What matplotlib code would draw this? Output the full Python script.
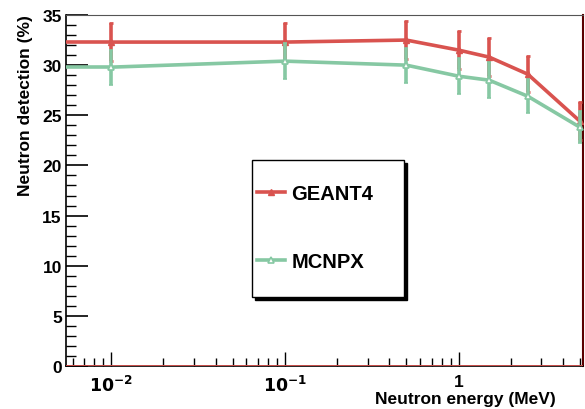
import numpy as np
import matplotlib
matplotlib.use("Agg")
import matplotlib.pyplot as plt
from matplotlib.lines import Line2D
from matplotlib.patches import Rectangle
from matplotlib.ticker import FixedLocator, NullFormatter, FuncFormatter

# data
energy = [0.01, 0.1, 0.5, 1.0, 1.5, 2.5, 5.0]
geant4 = [32.3, 32.3, 32.5, 31.5, 30.8, 29.1, 24.4]
geant4_err = [1.9, 1.9, 1.9, 1.9, 1.9, 1.8, 1.9]
mcnpx = [29.8, 30.4, 30.0, 28.9, 28.5, 26.9, 23.8]
mcnpx_err = [1.75, 1.8, 1.75, 1.8, 1.8, 1.7, 1.6]

red = '#d9534f'
green = '#86c8a3'

plt.rcParams['font.family'] = ['Liberation Sans', 'DejaVu Sans']
plt.rcParams['font.weight'] = 'bold'
plt.rcParams['mathtext.default'] = 'bf'

fig = plt.figure(figsize=(5.85, 4.1), dpi=100)
ax = fig.add_axes([66/585, 1-367/410, 517/585, 351/410])

ax.set_xscale('log')
ax.set_xlim(0.0055, 5.2)
ax.set_ylim(0, 35)
x_lo = ax.get_xlim()[0]

# curves run flat from the left frame to the first point
ax.plot([x_lo, energy[0]], [geant4[0], geant4[0]], color=red, lw=2.6, zorder=3)
ax.plot([x_lo, energy[0]], [mcnpx[0], mcnpx[0]], color=green, lw=2.6, zorder=4)

ax.errorbar(energy, geant4, yerr=geant4_err, color=red, lw=2.6, marker='^',
            ms=5, mfc=red, mec=red, elinewidth=2.6, capsize=1.5, capthick=2,
            zorder=3)
ax.errorbar(energy, mcnpx, yerr=mcnpx_err, color=green, lw=2.6, marker='^',
            ms=5, mfc='white', mec=green, mew=1.2, elinewidth=2.6, capsize=1.5,
            capthick=2, zorder=4)
ax.axhline(0, color=red, lw=2, zorder=5)

ax.xaxis.set_major_locator(FixedLocator([0.01, 0.1, 1]))
minors = [m * 10.0**e for e in (-3, -2, -1, 0) for m in range(2, 10)]
ax.xaxis.set_minor_locator(FixedLocator(minors))
ax.xaxis.set_minor_formatter(NullFormatter())
ax.xaxis.set_major_formatter(FuncFormatter(
    lambda v, p: '1' if abs(v - 1) < 1e-9 else r'$10^{%d}$' % round(np.log10(v))))

ax.yaxis.set_major_locator(FixedLocator(np.arange(0, 36, 5)))
ax.yaxis.set_minor_locator(FixedLocator(np.arange(0, 36, 1)))

ax.tick_params(axis='x', which='major', direction='in', length=10, width=1,
               labelsize=12.5, pad=6, top=False)
ax.tick_params(axis='x', which='minor', direction='in', length=6, width=1, top=False)
ax.tick_params(axis='y', which='major', direction='in', length=16, width=1.2,
               labelsize=12.5, pad=3, right=False)
ax.tick_params(axis='y', which='minor', direction='in', length=7.5, width=1, right=False)

ax.spines['top'].set_color('#555555')
ax.spines['right'].set_color('#5a0000')
ax.spines['right'].set_linewidth(1.5)
ax.spines['left'].set_linewidth(1.2)
ax.spines['bottom'].set_linewidth(1.2)

ax.set_xlabel('Neutron energy (MeV)', fontsize=12.5, fontweight='bold',
              ha='right', va='center')
ax.xaxis.set_label_coords((556-66)/517, (367-400)/351)
ax.set_ylabel('Neutron detection (%)', fontsize=12.5, fontweight='bold',
              ha='right', va='center')
ax.yaxis.set_label_coords((26-66)/517, (367-15)/351)

# legend box with shadow
fig.patches.append(Rectangle((255/585, 1-301/410), 152/585, 137/410,
                             transform=fig.transFigure, facecolor='black',
                             edgecolor='black', zorder=10))
fig.patches.append(Rectangle((252/585, 1-298/410), 152/585, 137/410,
                             transform=fig.transFigure, facecolor='white',
                             edgecolor='black', lw=1, zorder=11))

handles = [Line2D([], [], color=red, lw=2.6, marker='^', ms=5, mfc=red, mec=red),
           Line2D([], [], color=green, lw=2.6, marker='^', ms=5, mfc='white',
                  mec=green, mew=1.2)]
leg = fig.legend(handles, ['GEANT4', 'MCNPX'], loc='upper left',
                 bbox_to_anchor=(257/585, 1-185/410), frameon=False,
                 prop={'weight': 'bold', 'size': 14.5}, labelspacing=2.45,
                 borderpad=0, borderaxespad=0, handlelength=1.4,
                 handletextpad=0.3)
leg.set_zorder(12)

fig.savefig('out.png', dpi=100)
